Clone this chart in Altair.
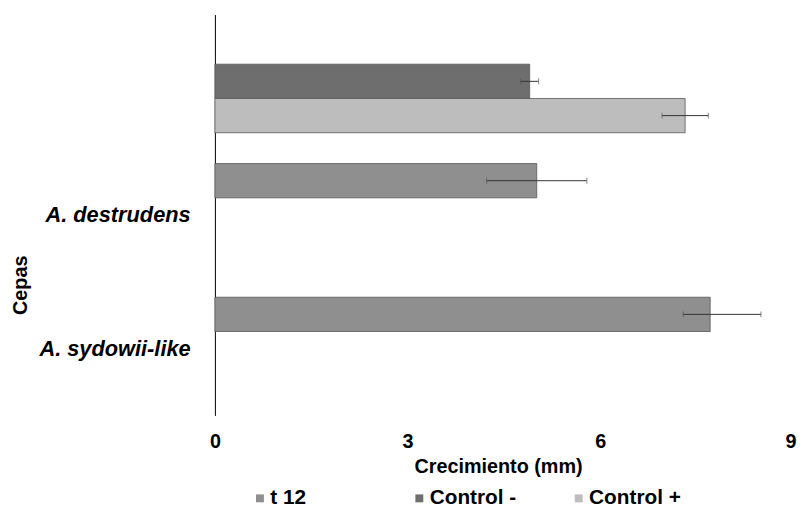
import altair as alt
import pandas as pd

# categories (top to bottom) and series
cepas_orden = [" ", "A. destrudens", "A. sydowii-like"]
series_orden = ["t 12", "Control -", "Control +"]

# one row per drawn bar
cepa = [" ", " ", "A. destrudens", "A. sydowii-like"]
serie = ["Control -", "Control +", "t 12", "t 12"]
media = [4.90, 7.32, 5.01, 7.71]
err_inf = [0.14, 0.36, 0.78, 0.42]
err_sup = [0.14, 0.36, 0.78, 0.79]

x_ticks = [0, 3, 6, 9]

df = pd.DataFrame({"cepa": cepa, "serie": serie, "media": media,
                   "inf": err_inf, "sup": err_sup})
df["lo"] = df["media"] - df["inf"]
df["hi"] = df["media"] + df["sup"]

FONT = "Liberation Sans"

y_enc = alt.Y("cepa:N", sort=cepas_orden,
              scale=alt.Scale(domain=cepas_orden, paddingInner=0, paddingOuter=0),
              axis=alt.Axis(title="Cepas", labelFont=FONT, labelFontSize=22,
                            labelFontWeight="bold", labelFontStyle="italic",
                            labelColor="black", labelPadding=25, ticks=False,
                            domainColor="black", domainWidth=1, grid=False,
                            titleFont=FONT, titleFontSize=20, titleFontWeight="bold",
                            titleColor="black", titleAngle=-90, titleX=-196,
                            titleY=273, titleAlign="center", titleBaseline="middle"))
yoff_enc = alt.YOffset("serie:N", sort=series_orden,
                       scale=alt.Scale(domain=series_orden, paddingInner=0,
                                       paddingOuter=0.45))

x_scale = alt.Scale(domain=[0, 9], nice=False, zero=True)

bars = alt.Chart(df).mark_bar(stroke="#555555", strokeWidth=0.8).encode(
    x=alt.X("media:Q", scale=x_scale,
            axis=alt.Axis(title="Crecimiento (mm)", values=x_ticks, format="d",
                          domain=False, ticks=False, grid=False, labelFlush=False,
                          labelAlign={"condition": {"test": "datum.value == 9",
                                                    "value": "right"},
                                      "value": "center"},
                          labelOffset={"condition": {"test": "datum.value == 9",
                                                     "value": 3},
                                       "value": 0},
                          labelFont=FONT, labelFontSize=20, labelFontWeight="bold",
                          labelColor="black", labelPadding=16,
                          titleFont=FONT, titleFontSize=20, titleFontWeight="bold",
                          titleColor="black", titlePadding=6, titleX=286)),
    y=y_enc,
    yOffset=yoff_enc,
    color=alt.Color("serie:N", sort=series_orden,
                    scale=alt.Scale(domain=series_orden,
                                    range=["#8f8f8f", "#6e6e6e", "#bdbdbd"]),
                    legend=alt.Legend(title=None, orient="none", legendX=35,
                                      legendY=478, direction="horizontal",
                                      columns=3, gridAlign="all", columnPadding=47,
                                      symbolType="square", symbolSize=64,
                                      symbolStrokeWidth=0, labelFont=FONT,
                                      labelFontSize=21, labelFontWeight="bold",
                                      labelColor="black", labelOffset=0)),
)

rules = alt.Chart(df).mark_rule(color="#333333", strokeWidth=1).encode(
    x=alt.X("lo:Q", scale=x_scale), x2="hi:Q", y=y_enc, yOffset=yoff_enc)

caps_lo = alt.Chart(df).mark_tick(color="#555555", thickness=1, size=6).encode(
    x=alt.X("lo:Q", scale=x_scale), y=y_enc, yOffset=yoff_enc)
caps_hi = alt.Chart(df).mark_tick(color="#555555", thickness=1, size=6).encode(
    x=alt.X("hi:Q", scale=x_scale), y=y_enc, yOffset=yoff_enc)

chart = alt.layer(bars, rules, caps_lo, caps_hi).properties(
    width=584, height=405,
    autosize=alt.AutoSizeParams(type="none"),
    padding={"left": 209, "top": 4, "right": 5, "bottom": 100},
    background="white",
).configure_view(stroke=None)

chart.save("out.html", embed_options={"renderer": "svg", "actions": False})
